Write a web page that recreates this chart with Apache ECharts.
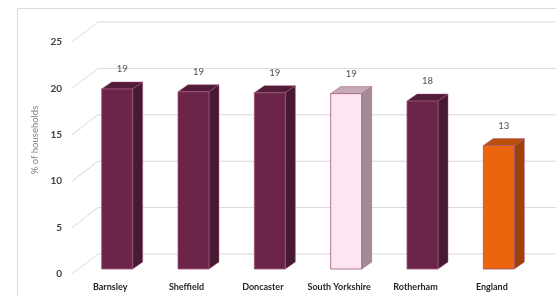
<!DOCTYPE html>
<html>
<head>
<meta charset="utf-8">
<script src="https://cdn.jsdelivr.net/npm/echarts@6/dist/echarts.min.js"></script>
<style>
  html, body { margin: 0; padding: 0; background: #fff; }
  #chart { width: 556px; height: 296px; }
</style>
</head>
<body>
<div id="chart"></div>
<script>
// data
var areas = ['Barnsley', 'Sheffield', 'Doncaster', 'South Yorkshire', 'Rotherham', 'England']
var shares = [19.4, 19.1, 19.0, 18.9, 18.1, 13.3]
var yTicks = [0, 5, 10, 15, 20, 25]

// face colours per bar: front, side, top
var faces = [
  ['#6b2548', '#461a31', '#521d39'],
  ['#6b2548', '#461a31', '#521d39'],
  ['#6b2548', '#461a31', '#521d39'],
  ['#fde5f1', '#a38a97', '#c6a9b8'],
  ['#6b2548', '#461a31', '#521d39'],
  ['#ec640c', '#9e410a', '#b84f0c']
]
var edge = '#a0567c'

var FONT = 'Lato'
var DX = 7, DY = -5      // bar plane offset from front plane
var BW = 31              // bar front width
var DEPTH = [10, -7]     // bar depth
var WALL = [26, -20]     // back wall offset

var chart = echarts.init(document.getElementById('chart'))

function renderGrid(params, api) {
  var cs = params.coordSys
  var y = api.coord([0, api.value(1)])[1]
  return {
    type: 'polyline',
    shape: { points: [[cs.x, y], [cs.x + WALL[0], y + WALL[1]], [cs.x + cs.width + WALL[0], y + WALL[1]]] },
    style: { stroke: '#d9d9d9', lineWidth: 1, fill: null }
  }
}

function renderBar(params, api) {
  var i = params.dataIndex
  var top = api.coord([api.value(0), api.value(1)])
  var bot = api.coord([api.value(0), 0])
  var xl = top[0] + DX - BW / 2
  var xr = xl + BW
  var yt = top[1] + DY
  var yb = bot[1] + DY
  var dx = DEPTH[0], dy = DEPTH[1]
  var f = faces[i]
  return {
    type: 'group',
    children: [
      { type: 'polygon', shape: { points: [[xr, yt], [xr + dx, yt + dy], [xr + dx, yb + dy], [xr, yb]] },
        style: { fill: f[1], stroke: edge, lineWidth: 0.5 } },
      { type: 'polygon', shape: { points: [[xl, yt], [xl + dx, yt + dy], [xr + dx, yt + dy], [xr, yt]] },
        style: { fill: f[2], stroke: edge, lineWidth: 0.5 } },
      { type: 'rect', shape: { x: xl, y: yt, width: BW, height: yb - yt },
        style: { fill: f[0], stroke: edge, lineWidth: 0.8 } },
      { type: 'text', x: (xl + xr) / 2 + dx / 2, y: yt + dy - 13,
        style: { text: String(Math.round(api.value(1))), fill: '#505050', font: '9.5px ' + FONT,
          align: 'center', verticalAlign: 'middle' } }
    ]
  }
}

var option = {
  animation: false,
  backgroundColor: '#fff',
  grid: { left: 72, right: 26, top: 42, bottom: 22 },
  xAxis: {
    type: 'category',
    data: areas,
    axisLine: { show: false },
    axisTick: { show: false },
    axisLabel: { color: '#262626', fontFamily: FONT, fontWeight: 'bold', fontSize: 9, margin: 9, interval: 0 }
  },
  yAxis: {
    type: 'value',
    min: 0,
    max: 25,
    interval: 5,
    axisLine: { show: false },
    axisTick: { show: false },
    splitLine: { show: false },
    axisLabel: { color: '#404040', fontFamily: FONT, fontWeight: 'bold', fontSize: 10, margin: 10 }
  },
  graphic: [
    { type: 'rect', shape: { x: 17.5, y: 8.5, width: 600, height: 400 },
      style: { fill: null, stroke: '#d9d9d9', lineWidth: 1 }, silent: true },
    { type: 'text', x: 35, y: 140, rotation: Math.PI / 2,
      style: { text: '% of households', fill: '#808080', font: '9.5px ' + FONT, align: 'center', verticalAlign: 'middle' } }
  ],
  series: [
    {
      type: 'custom',
      renderItem: renderGrid,
      data: yTicks.map(function (v) { return [0, v] }),
      z: 1,
      silent: true
    },
    {
      type: 'custom',
      renderItem: renderBar,
      data: shares.map(function (v, i) { return [i, v] }),
      z: 2
    }
  ]
}

chart.setOption(option)
</script>
</body>
</html>
